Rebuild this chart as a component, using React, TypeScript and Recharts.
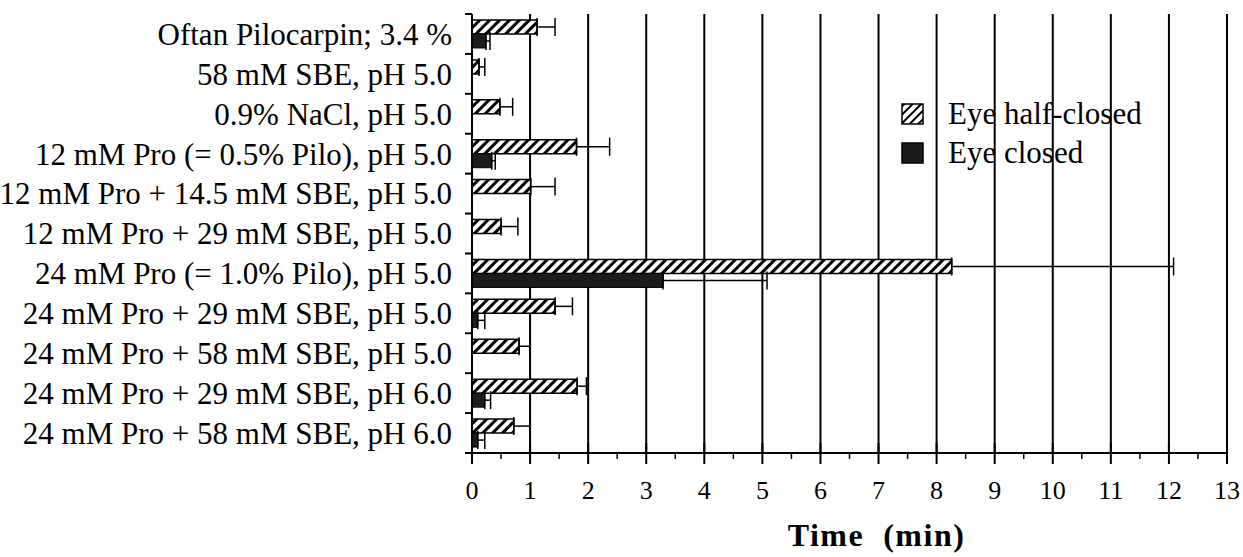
import React from 'react';
import { BarChart, Bar, XAxis, YAxis, CartesianGrid, ErrorBar, Legend } from 'recharts';

const categories = [
  'Oftan Pilocarpin; 3.4 %',
  '58 mM SBE, pH 5.0',
  '0.9% NaCl, pH 5.0',
  '12 mM Pro (= 0.5% Pilo), pH 5.0',
  '12 mM Pro + 14.5 mM SBE, pH 5.0',
  '12 mM Pro + 29 mM SBE, pH 5.0',
  '24 mM Pro (= 1.0% Pilo), pH 5.0',
  '24 mM Pro + 29 mM SBE, pH 5.0',
  '24 mM Pro + 58 mM SBE, pH 5.0',
  '24 mM Pro + 29 mM SBE, pH 6.0',
  '24 mM Pro + 58 mM SBE, pH 6.0',
];

// minutes
const halfClosed = [1.12, 0.12, 0.48, 1.8, 1.01, 0.5, 8.26, 1.43, 0.81, 1.81, 0.72];
const halfClosedErr = [0.31, 0.1, 0.22, 0.57, 0.42, 0.29, 3.82, 0.3, 0.19, 0.16, 0.28];
const closed = [0.24, 0, 0, 0.34, 0, 0, 3.29, 0.1, 0, 0.22, 0.1];
const closedErr = [0.07, 0, 0, 0.06, 0, 0, 1.79, 0.12, 0, 0.1, 0.12];

const xTicks = [0, 1, 2, 3, 4, 5, 6, 7, 8, 9, 10, 11, 12, 13];
const xTicksWithMinor = [
  0, 0.5, 1, 1.5, 2, 2.5, 3, 3.5, 4, 4.5, 5, 5.5, 6, 6.5, 7, 7.5, 8, 8.5, 9, 9.5,
  10, 10.5, 11, 11.5, 12, 12.5, 13,
];
const legendOrder = ['half', 'closed'];
const X_MIN = 0;
const X_MAX = 13;
const Y_LABEL_GAP = 20;

const data = categories.map((name, i) => ({
  name,
  half: halfClosed[i],
  halfErr: [0, halfClosedErr[i]],
  closed: closed[i],
  closedErr: [0, closedErr[i]],
}));

const FONT = '"Liberation Serif", "Times New Roman", serif';

// category label + small tick marks on the band boundaries
const YTick = ({ x, y, payload, index, visibleTicksCount }: any) => {
  const axisX = x + Y_LABEL_GAP;
  const half = payload && typeof payload.offset === 'number' ? payload.offset : 0;
  const last = index === (visibleTicksCount ?? categories.length) - 1;
  return (
    <g>
      {half > 0 && <line x1={axisX - 7} x2={axisX} y1={y - half} y2={y - half} stroke="#000" strokeWidth={2} />}
      {half > 0 && last && (
        <line x1={axisX - 7} x2={axisX} y1={y + half} y2={y + half} stroke="#000" strokeWidth={2} />
      )}
      <text x={x} y={y} dy="0.35em" textAnchor="end" fontSize={31} fontFamily={FONT} fill="#000">
        {payload.value}
      </text>
    </g>
  );
};

const XTick = ({ x, y, payload }: any) => {
  const major = Number.isInteger(payload.value);
  return (
    <g>
      <line
        x1={x}
        x2={x}
        y1={major ? y - 10 : y}
        y2={major ? y + 11 : y + 6}
        stroke="#000"
        strokeWidth={major ? 2 : 1.5}
      />
      {major && (
        <text x={x} y={y + 46} textAnchor="middle" fontSize={26} fontFamily={FONT} fill="#000">
          {payload.value}
        </text>
      )}
    </g>
  );
};

const LegendBox = ({ hatched }: { hatched: boolean }) => (
  <svg width={23} height={22} style={{ display: 'block' }}>
    <defs>
      <pattern id="hatchLegend" patternUnits="userSpaceOnUse" width="6" height="6" patternTransform="rotate(45)">
        <rect width="6" height="6" fill="#fff" />
        <line x1="3" y1="0" x2="3" y2="6" stroke="#000" strokeWidth="2" />
      </pattern>
    </defs>
    <rect
      x={1}
      y={1}
      width={21}
      height={20}
      fill={hatched ? 'url(#hatchLegend)' : '#1c1c1c'}
      stroke="#000"
      strokeWidth={1.5}
    />
  </svg>
);

const renderLegend = (props: any) => {
  const items = [...(props.payload || [])].sort(
    (a: any, b: any) => legendOrder.indexOf(a.dataKey) - legendOrder.indexOf(b.dataKey)
  );
  return (
    <div style={{ fontFamily: FONT, fontSize: 31, color: '#000' }}>
      {items.map((entry: any) => (
        <div key={entry.value} style={{ display: 'flex', alignItems: 'center', height: 39 }}>
          <LegendBox hatched={entry.dataKey === 'half'} />
          <span style={{ marginLeft: 24, lineHeight: '39px' }}>{entry.value}</span>
        </div>
      ))}
    </div>
  );
};

// vertical grid lines at the whole minutes only (the axis also carries half-minute ticks)
const gridX = ({ xAxis, offset }: any) => {
  if (xAxis && typeof xAxis.scale === 'function') return xTicks.map((v) => xAxis.scale(v));
  return xTicks.map((v) => offset.left + ((v - X_MIN) / (X_MAX - X_MIN)) * offset.width);
};

export default function App() {
  return (
    <div style={{ position: 'absolute', left: 0, top: 0, width: 1243, height: 557, background: '#fff' }}>
      <BarChart
        width={1243}
        height={557}
        data={data}
        layout="vertical"
        margin={{ top: 14, right: 16, bottom: 0, left: 0 }}
        barCategoryGap="15%"
        barGap={0}
      >
        <defs>
          <pattern id="hatch" patternUnits="userSpaceOnUse" width="7" height="7" patternTransform="rotate(45)">
            <rect width="7" height="7" fill="#fff" />
            <line x1="3.5" y1="0" x2="3.5" y2="7" stroke="#000" strokeWidth="3" />
          </pattern>
        </defs>
        <CartesianGrid
          yAxisId="cat"
          horizontal={false}
          verticalCoordinatesGenerator={gridX}
          stroke="#000"
          strokeWidth={2}
        />
        <XAxis
          xAxisId="top"
          orientation="top"
          type="number"
          domain={[X_MIN, X_MAX]}
          ticks={xTicks}
          height={0}
          tick={false}
          tickLine={false}
          axisLine={{ stroke: '#000', strokeWidth: 2 }}
          allowDataOverflow
        />
        <XAxis
          type="number"
          domain={[X_MIN, X_MAX]}
          ticks={xTicksWithMinor}
          interval={0}
          height={104}
          tick={<XTick />}
          tickLine={false}
          tickSize={0}
          tickMargin={0}
          axisLine={{ stroke: '#000', strokeWidth: 2 }}
          label={{
            content: (p: any) => (
              <text
                x={p.viewBox.x + p.viewBox.width / 2 + 27}
                y={p.viewBox.y + 93}
                textAnchor="middle"
                fontSize={32}
                fontWeight="bold"
                fontFamily={FONT}
                letterSpacing={1.5}
                fill="#000"
                style={{ whiteSpace: 'pre' }}
              >
                {'Time  (min)'}
              </text>
            ),
          }}
        />
        <YAxis
          yAxisId="cat"
          type="category"
          dataKey="name"
          width={472}
          tick={<YTick />}
          tickLine={false}
          tickSize={0}
          tickMargin={Y_LABEL_GAP}
          interval={0}
          axisLine={{ stroke: '#000', strokeWidth: 2 }}
        />
        <Legend
          layout="horizontal"
          verticalAlign="middle"
          align="center"
          content={renderLegend}
          wrapperStyle={{ left: 901, top: 94, width: 'auto' }}
        />
        <Bar
          yAxisId="cat"
          dataKey="half"
          name="Eye half-closed"
          fill="url(#hatch)"
          stroke="#000"
          strokeWidth={1.5}
          isAnimationActive={false}
        >
          <ErrorBar dataKey="halfErr" direction="x" width={9} stroke="#000" strokeWidth={1.5} />
        </Bar>
        <Bar
          yAxisId="cat"
          dataKey="closed"
          name="Eye closed"
          fill="#1c1c1c"
          stroke="#000"
          strokeWidth={1}
          isAnimationActive={false}
        >
          <ErrorBar dataKey="closedErr" direction="x" width={9} stroke="#000" strokeWidth={1.5} />
        </Bar>
      </BarChart>
    </div>
  );
}
